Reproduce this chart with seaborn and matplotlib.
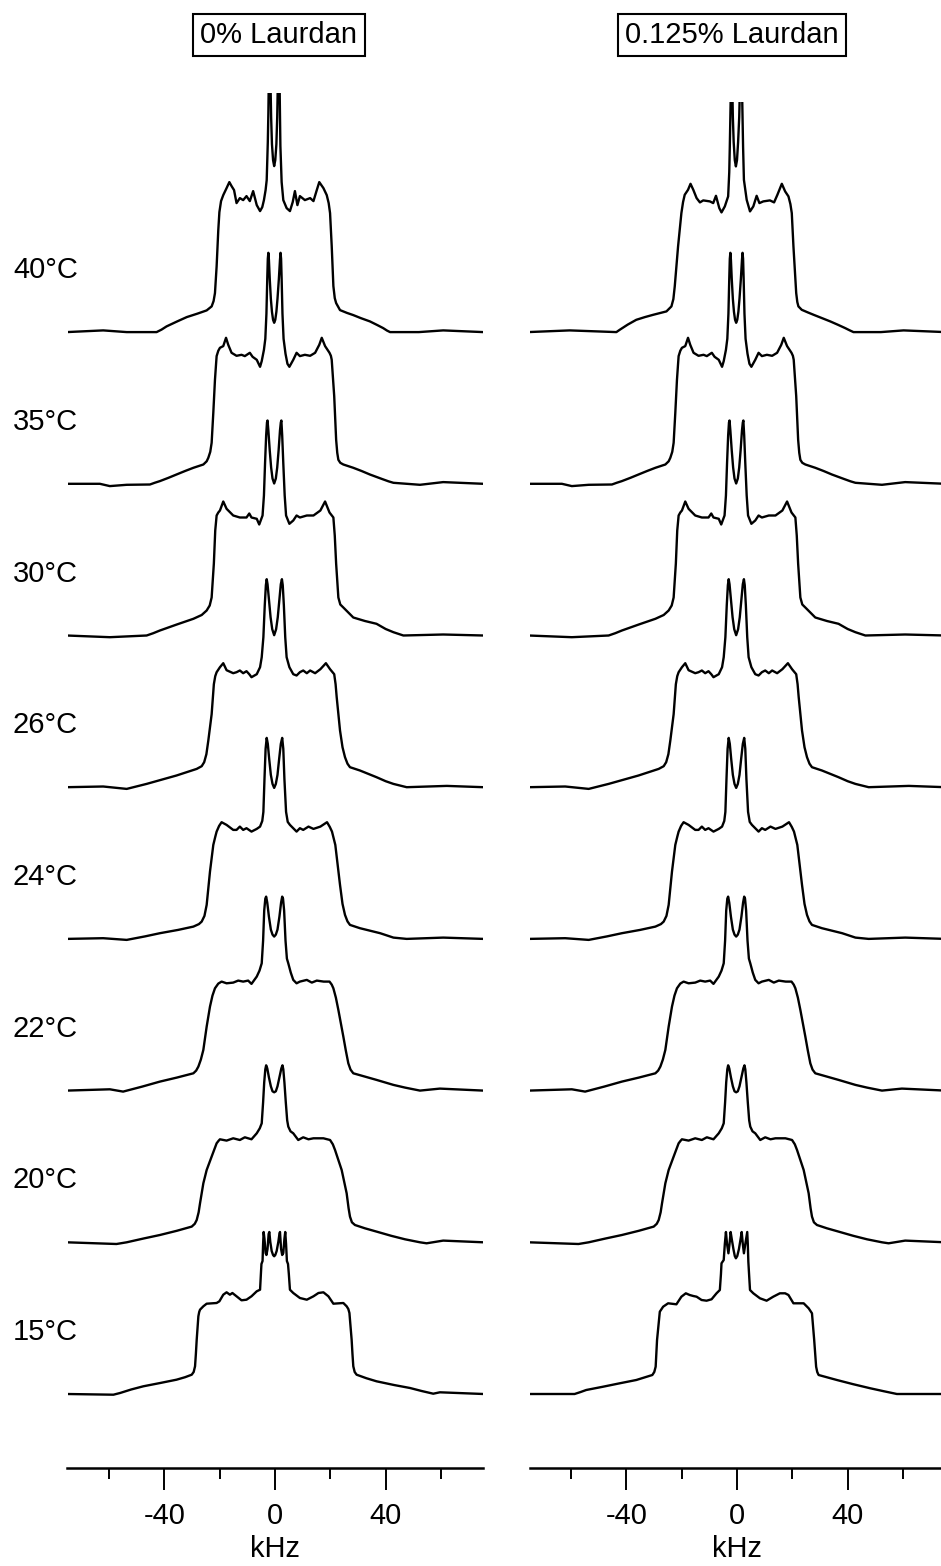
import numpy as np
import matplotlib
matplotlib.use("Agg")
import matplotlib.pyplot as plt
import seaborn as sns
from matplotlib.transforms import blended_transform_factory
from matplotlib.ticker import FixedLocator

sns.set_theme(style="white")
plt.rcParams["font.family"] = ["Liberation Sans", "DejaVu Sans"]
plt.rcParams["axes.unicode_minus"] = False
for k in ["text.color", "axes.labelcolor", "xtick.color", "axes.edgecolor"]:
    plt.rcParams[k] = "black"

# ---------------- data ----------------
temps = ["15°C", "20°C", "22°C", "24°C", "26°C", "30°C", "35°C", "40°C"]
panel_titles = ["0% Laurdan", "0.125% Laurdan"]
major_ticks = [-40, 0, 40]
minor_ticks = [-60, -20, 20, 60]
tick_labels = ["-40", "0", "40"]

# spectra as (kHz, intensity)
L40 = [(-75.3,0),(-62.1,1.7),(-53.6,0),(-42.8,0),(-41.0,2.5),(-39.2,5.7),(-35.5,10.5),(-31.9,15),(-28.0,18.5),(-24.7,21.7),(-22.9,25.7),(-22.2,31),(-21.7,39),(-21.1,65.7),(-20.5,102),(-20.1,120),(-19.5,131),(-18.7,137),(-17.5,144),(-16.5,150),(-15.7,146),(-14.8,142),(-13.9,129),(-12.7,134),(-11.5,132),(-10.3,136),(-9.1,131),(-7.9,141),(-6.6,127),(-5.4,121),(-4.6,125),(-4.0,132),(-3.4,142),(-3.0,152),(-2.6,190),(-2.4,219),(-2.2,260),(-2.0,300),(-1.7,260),(-1.4,215),(-1.1,188),(-0.7,172),(-0.3,166),(0.1,172),(0.5,188),(0.8,215),(1.1,260),(1.4,300),(1.6,260),(1.95,186),(2.4,150),(3.0,132),(4.2,124),(5.4,121),(6.4,130),(7.2,141),(8.1,127),(9.0,136),(10.8,132),(12.7,134),(13.9,131),(15.1,142),(16.0,150),(17.5,144),(18.7,137),(19.4,129),(19.9,119),(20.5,86),(21.1,46),(21.6,34),(22.1,29),(23.5,22),(26.0,19.2),(28.3,17),(31.0,14),(34.3,10.7),(37.0,7),(39.1,4),(40.5,1.5),(41.6,0),(52,0),(60.8,1.7),(75.3,0)]
L35 = [(-75.3,0),(-63.3,0),(-59.7,-2.3),(-53.6,-1),(-45.2,-0.7),(-43.5,1),(-41.6,2.7),(-38.5,6),(-35.6,9.3),(-32.5,12.8),(-29.5,16),(-25.9,19.3),(-24.7,22.5),(-24.1,26),(-23.4,32),(-22.9,41),(-22.3,71),(-21.7,104),(-21.3,120),(-21.1,127.7),(-20.5,133),(-19.9,136),(-18.7,137.7),(-17.7,146),(-16.9,139),(-15.7,131),(-13.9,128),(-12.1,129),(-10.9,127.7),(-9.1,131),(-8.1,127),(-6.6,124),(-5.4,117),(-4.8,122.7),(-4.0,134),(-3.5,145),(-3.1,170),(-2.8,205),(-2.6,225),(-2.4,231),(-2.2,224),(-1.9,205),(-1.5,185),(-1.1,172),(-0.7,164),(-0.3,161),(0.1,164),(0.5,172),(0.9,185),(1.4,205),(1.8,224),(2.0,231),(2.2,225),(2.4,205),(2.7,170),(3.1,145),(3.8,130),(4.5,120),(5.2,117),(6.6,124),(7.8,131),(9.0,127.7),(10.8,129),(12.7,128),(14.5,131),(16.0,139),(16.9,146),(18.1,137.7),(19.7,131),(20.2,128),(20.5,124),(21.4,87.7),(22.1,44),(22.5,31),(22.9,24),(23.6,21),(24.7,19.3),(28.3,16),(31.3,12.8),(34.3,9.3),(38.5,5),(41.0,2.5),(42.8,1),(52.4,-1),(60.8,1.7),(75.3,0)]
L30 = [(-75.3,0),(-59.7,-1.7),(-46.4,0),(-44.0,2.3),(-41.6,5),(-35.5,11),(-29.5,16.7),(-26.5,20.5),(-24.7,25),(-23.6,30),(-22.9,38),(-22.1,72),(-21.6,105),(-21.1,120),(-20.5,123),(-19.9,125),(-18.7,134),(-17.5,126.7),(-15.1,120),(-12.7,118),(-10.3,118),(-9.3,122),(-8.5,118),(-6.6,116.7),(-5.7,111),(-4.5,120),(-4.0,140),(-3.6,172),(-3.2,200),(-2.9,213),(-2.7,215),(-2.4,205),(-1.9,185),(-1.4,168),(-0.9,157),(-0.3,152),(0.3,157),(0.8,168),(1.3,185),(1.8,205),(2.1,213),(2.3,215),(2.6,200),(3.0,172),(3.5,140),(4.0,120),(5.2,111.7),(6.6,115),(7.8,120),(9.0,118),(11.5,120),(13.9,120),(16.4,125),(18.1,134),(19.7,123),(21.1,118),(21.6,100),(22.1,71.7),(22.9,38),(23.6,31),(24.7,28),(28.3,18),(32.5,14.5),(36.7,11.7),(40.0,6.5),(42.8,3.3),(46.4,0),(60.8,1),(75.3,0)]
L26 = [(-75.3,0),(-62.1,0.7),(-53.6,-1.7),(-46.4,3.3),(-41.0,7.5),(-35.6,11.7),(-28.3,18.3),(-26.5,21),(-25.6,25),(-24.8,33),(-24.1,46.7),(-22.9,73),(-22.1,103),(-21.6,111),(-21.1,115),(-19.9,120),(-18.7,124),(-17.5,117),(-15.1,114),(-13.9,115),(-12.7,116.7),(-11.5,114),(-10.3,116),(-9.3,113),(-8.5,110),(-6.6,113),(-5.4,120),(-4.8,130),(-4.2,150),(-3.7,182),(-3.3,202),(-3.0,208),(-2.7,203),(-2.2,188),(-1.6,170),(-1.0,158),(-0.3,152),(0.4,158),(1.0,170),(1.6,188),(2.1,203),(2.5,208),(2.8,202),(3.2,182),(3.7,150),(4.2,130),(5.2,120),(6.6,113),(7.8,111.7),(9.0,115),(10.2,116.7),(11.5,114),(12.7,116.7),(14.5,114),(16.4,118),(18.4,124),(19.9,118),(21.4,113),(21.9,103),(22.3,90),(23.5,56.7),(24.4,40),(25.3,30),(26.2,23.5),(27.1,20),(30.7,16.7),(36.7,10),(40.0,6),(42.8,3.3),(47.6,0),(62.1,1.3),(75.3,0)]
L24 = [(-75.3,0),(-62.1,0.7),(-53.6,-1),(-47.0,2.5),(-41.6,5.7),(-35.0,9),(-29.5,12.3),(-27.5,14.8),(-26.5,17.3),(-25.5,23),(-24.7,34),(-23.5,67.3),(-22.3,94),(-21.6,102),(-21.1,107.3),(-20.2,113),(-19.3,116.7),(-17.5,114),(-15.1,109),(-13.9,109),(-12.7,112.3),(-11.5,109),(-10.3,110.7),(-8.5,107.3),(-6.6,110),(-5.4,112.3),(-4.6,118),(-4.2,127),(-3.8,160),(-3.4,190),(-3.0,201),(-2.6,195),(-2.1,180),(-1.5,164),(-0.9,155),(-0.3,151),(0.3,155),(0.9,164),(1.5,180),(2.1,195),(2.6,201),(3.0,190),(3.4,160),(4.0,127),(4.6,117),(5.4,114),(7.8,107.3),(9.0,110.7),(10.2,109),(12.1,112.3),(13.9,110),(16.4,112.3),(18.8,116.7),(19.8,112),(20.6,107.3),(21.8,94),(23.5,54),(24.4,35),(25.3,24),(26.2,17.5),(27.1,14),(30.7,10.7),(38.0,5.7),(42.8,1.3),(47.6,0),(60.8,1.3),(75.3,0)]
L22 = [(-75.3,0),(-59.7,1.3),(-54.9,-1),(-48.0,4),(-41.6,9),(-35.5,13),(-29.5,17.3),(-28.5,20),(-27.7,24),(-26.8,31),(-25.9,40.7),(-24.7,64),(-23.5,84),(-22.6,95),(-21.7,102.3),(-20.5,107),(-19.3,109),(-17.5,107.3),(-15.1,108),(-13.3,110),(-11.5,109),(-9.7,110),(-8.5,106.7),(-6.6,114),(-5.6,120),(-4.8,127.3),(-4.3,150),(-3.9,180),(-3.5,192),(-3.2,194),(-2.8,188),(-2.2,174),(-1.5,161),(-0.9,156),(-0.3,154),(0.3,156),(0.9,161),(1.6,174),(2.2,188),(2.6,194),(2.9,192),(3.3,180),(3.8,150),(4.3,132),(4.8,127.3),(5.7,118),(6.6,110.7),(7.8,107.3),(9.0,109),(11.5,110.7),(13.3,108),(15.1,110),(17.6,109),(19.7,109),(20.5,106),(21.1,102.3),(22.0,93),(22.9,80.7),(24.7,54),(25.6,40),(26.5,27.3),(27.3,21),(28.3,17.3),(32.5,14),(36.7,10.7),(42.8,5.7),(47,3),(52.4,0),(59.6,2),(75.3,0)]
L20 = [(-75.3,0),(-57.3,-1.7),(-53.6,0),(-47.5,3.8),(-41.6,7.3),(-35.5,11.5),(-30.1,15.7),(-29.0,18.5),(-28.3,22.3),(-27.6,30),(-27.1,39),(-25.9,59),(-24.7,72.3),(-22.9,85.7),(-21.1,99),(-20.4,101.5),(-19.9,103),(-17.5,101.7),(-15.1,104),(-12.7,102.3),(-10.9,105),(-8.5,103),(-6.6,109),(-5.5,114),(-4.8,119),(-4.3,140),(-3.9,160),(-3.5,173),(-3.2,177),(-2.8,174),(-2.2,165),(-1.5,156),(-0.9,151),(-0.3,150),(0.3,151),(0.9,156),(1.6,165),(2.3,174),(2.7,177),(3.0,173),(3.4,160),(3.9,140),(4.4,122),(4.8,115.7),(5.6,111),(6.6,109),(8.4,102.3),(10.2,105),(12.1,103),(13.9,104),(17.5,104),(19.9,102.3),(20.9,98),(21.7,92.3),(22.9,82.3),(24.1,72.3),(25.9,49),(26.6,34),(27.1,25.7),(27.8,20),(28.9,17.3),(32.5,14),(36.7,10.7),(42,6.5),(47,3),(52.4,0),(54.8,-1),(60.8,1.7),(75.3,0)]
L15 = [(-75.3,0),(-58.4,-0.7),(-56.0,1),(-52,4.5),(-47.6,7.7),(-41.5,11),(-35.6,14.3),(-32.5,16.8),(-30.1,19.3),(-29.4,22),(-28.9,27.7),(-28.6,40),(-28.3,54.3),(-27.7,77.7),(-27.4,82),(-27.1,84.3),(-25.9,87.7),(-24.7,90.3),(-21.1,91),(-20.1,92.7),(-18.7,99.3),(-17.5,101.7),(-16.3,99.3),(-15.4,101),(-13.9,97.7),(-12.1,93.7),(-10.3,94.3),(-8.5,97.7),(-6.6,102.7),(-5.4,104.3),(-5.1,120),(-4.9,130),(-4.5,133),(-4.3,150),(-4.1,162),(-3.8,155),(-3.4,141),(-3.1,139),(-2.7,145),(-2.3,160),(-2.05,162),(-1.7,152),(-1.2,143),(-0.7,139),(-0.3,137.7),(0.1,139),(0.6,143),(1.2,152),(1.6,160),(1.8,162),(2.2,145),(2.6,139),(3.0,141),(3.4,155),(3.7,162),(4.0,150),(4.3,133),(4.7,130),(5.0,120),(5.4,104.3),(6.6,101),(9.0,96),(11.5,94.3),(13.9,97.7),(15.7,101),(17.5,101.7),(19.3,97.7),(21.1,90.3),(24.7,91),(25.9,87.7),(26.5,85),(26.9,81),(27.7,54.3),(28.0,40),(28.3,27.7),(28.8,22),(29.5,19.3),(33,15.8),(36.7,12.7),(43,9),(48.8,6),(53,3),(57.2,0.3),(59.6,1.7),(75.3,0)]

R40 = [(-75.6,0),(-60.5,1.7),(-43.6,0),(-42.4,2.3),(-39.5,7.5),(-36.4,12.3),(-33.3,15),(-30.3,17.3),(-25.5,20.7),(-23.7,25.7),(-23.0,33),(-22.5,45.7),(-21.3,85.7),(-20.1,119),(-19.5,130),(-18.9,137.3),(-17.7,142.3),(-16.8,148.3),(-15.8,142.3),(-14.6,134),(-13.4,129.7),(-12.2,131.7),(-9.8,130.7),(-8.6,129),(-7.6,136.3),(-6.4,124),(-5.6,119.7),(-4.4,125.7),(-3.2,135.7),(-2.8,160),(-2.6,185.7),(-2.3,230.7),(-2.1,300),(-1.8,260),(-1.5,215),(-1.2,190),(-0.8,172),(-0.4,165.7),(0.0,172),(0.4,190),(0.8,215),(1.2,260),(1.6,300),(1.9,230.7),(2.2,185),(2.5,152.3),(3.5,132.3),(4.7,120.7),(5.9,125.7),(7.1,136.3),(8.1,129),(9.5,130.7),(11.9,131.7),(13.4,129.7),(14.6,137.3),(16.2,148.3),(17.4,140.7),(18.6,135.7),(19.3,128),(19.8,119),(20.4,85.7),(21.4,39),(21.8,30),(22.2,25.7),(23.4,22.3),(25.5,19.8),(27.7,17.3),(30.7,14),(33.7,10.7),(36.5,7.3),(39.1,4),(40.7,1.8),(42.1,0),(52,0),(60.2,1.7),(75.3,0)]
R35 = L35
R30 = L30
R26 = L26
R24 = L24
R22 = L22
R20 = L20
R15 = [(-75.6,0),(-58.7,0),(-56.5,2),(-54.5,4),(-48.4,7.3),(-42.4,10.7),(-36.4,14),(-33.5,16.5),(-30.6,19),(-29.9,22),(-29.4,27.3),(-28.9,54),(-27.9,82.3),(-26.7,87.3),(-24.9,90.7),(-21.9,89.7),(-20.1,97.3),(-18.5,100.7),(-17.1,99),(-15.8,98),(-14.6,97.3),(-12.8,94),(-11.0,93.3),(-9.2,94.7),(-7.4,100.7),(-6.2,104),(-5.8,120),(-5.6,130.7),(-4.8,134),(-4.4,150),(-4.0,162),(-3.6,150),(-3.1,140.7),(-2.7,150),(-2.3,162),(-1.9,155),(-1.3,145),(-0.8,138),(-0.4,135.7),(0.1,138),(0.7,145),(1.3,155),(1.7,162),(2.1,150),(2.5,140.7),(3.0,150),(3.7,162),(3.9,150),(4.1,132.3),(4.4,118),(4.7,104),(5.9,100.7),(8.3,95.7),(10.7,93.3),(13.1,97.3),(15.5,100.7),(17.4,100.7),(18.6,99),(20.4,90.7),(24.1,90.7),(25.9,85.7),(27.1,80.7),(27.9,54),(28.6,27.3),(29.0,22),(29.5,19),(32.8,16.5),(36.1,14),(42,9.8),(48.2,5.7),(53,2.8),(57.8,0),(75.3,0)]

left_spectra = [L15, L20, L22, L24, L26, L30, L35, L40]
right_spectra = [R15, R20, R22, R24, R26, R30, R35, R40]

# ---------------- layout ----------------
W, H = 941, 1566
STEP = 151.7          # vertical offset between stacked spectra
fig = plt.figure(figsize=(W / 100, H / 100), dpi=100)

def add_ax(l, t, r, b):
    return fig.add_axes([l / W, 1 - b / H, (r - l) / W, (b - t) / H])

axes = [add_ax(67.5, 93, 482.5, 1468), add_ax(529.5, 102, 944.5, 1468)]
ytops = [1301, 1292]
title_x = [279, 732]

for ax, spectra, ytop, title, tx in zip(axes, [left_spectra, right_spectra], ytops,
                                        panel_titles, title_x):
    for i, spec in enumerate(spectra):
        arr = np.array(spec, dtype=float)
        sns.lineplot(x=arr[:, 0], y=arr[:, 1] + i * STEP, ax=ax, color="black",
                     linewidth=1.7, estimator=None, sort=False,
                     solid_joinstyle="round", solid_capstyle="round")
    ax.set_xlim(-75, 75)
    ax.set_ylim(-74, ytop)
    ax.set_yticks([])
    sns.despine(ax=ax, left=True, top=True, right=True)
    ax.spines["bottom"].set_linewidth(1.8)
    ax.spines["bottom"].set_color("black")
    ax.xaxis.set_major_locator(FixedLocator(major_ticks))
    ax.xaxis.set_minor_locator(FixedLocator(minor_ticks))
    ax.set_xticklabels(tick_labels)
    ax.tick_params(axis="x", which="major", bottom=True, length=15.8, width=1.4,
                   direction="out", labelsize=21, pad=9, color="black")
    ax.tick_params(axis="x", which="minor", bottom=True, length=7.9, width=1.4,
                   direction="out", color="black")
    ax.set_xlabel("kHz", fontsize=21, labelpad=3)
    ax.set_ylabel("")
    fig.text(tx / W, 1 - 35 / H, title, ha="center", va="center", fontsize=21,
             bbox=dict(boxstyle="square,pad=0.25", fc="white", ec="black", lw=1.5))

trans = blended_transform_factory(fig.transFigure, axes[0].transData)
for i, t in enumerate(temps):
    axes[0].text(13 / W, i * STEP + 62, t, transform=trans, ha="left", va="center",
                 fontsize=21, clip_on=False)

fig.savefig("out.png", dpi=100, facecolor="white")
